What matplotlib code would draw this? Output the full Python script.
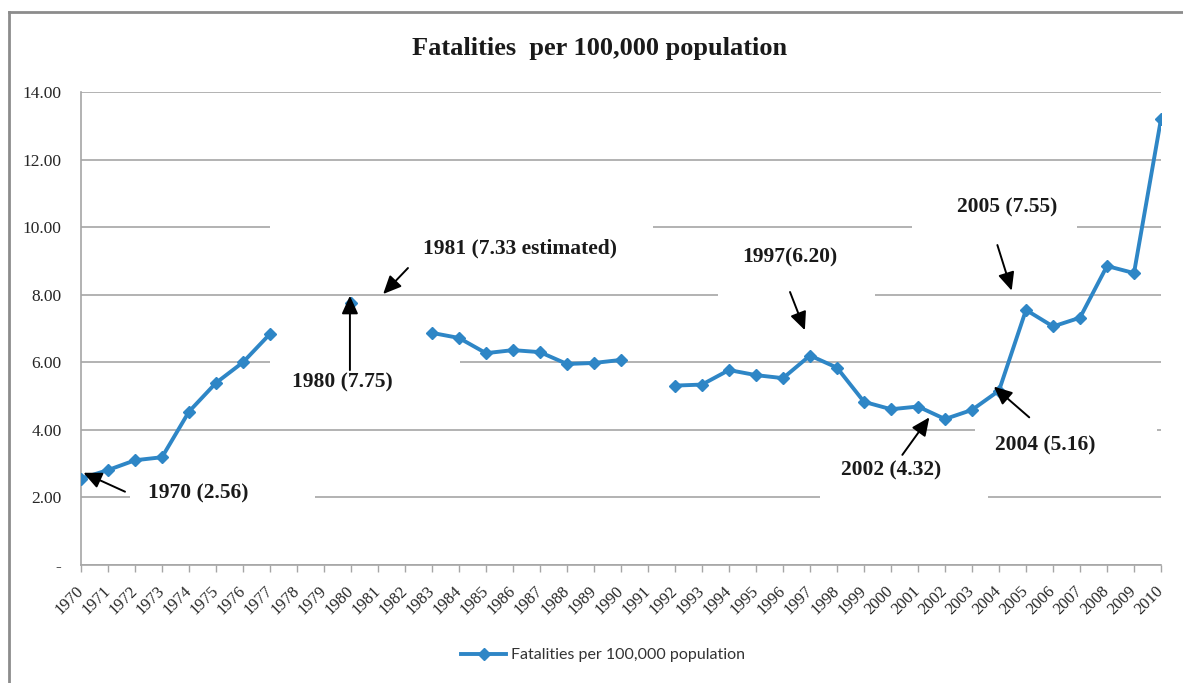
import numpy as np
import matplotlib
matplotlib.use("Agg")
import matplotlib.pyplot as plt
from matplotlib.patches import Rectangle

years = list(range(1970, 2011))
values = [2.56, 2.81, 3.10, 3.19, 4.54, 5.39, 6.00, 6.84,
          np.nan, np.nan, 7.75, np.nan, np.nan,
          6.87, 6.72, 6.27, 6.36, 6.30, 5.95, 5.98, 6.07,
          np.nan,
          5.31, 5.34, 5.77, 5.62, 5.53, 6.20, 5.84, 4.83, 4.61, 4.69,
          4.32, 4.59, 5.16, 7.55, 7.06, 7.32, 8.85, 8.64, 13.20]
series_name = "Fatalities per 100,000 population"
title = "Fatalities  per 100,000 population"
yticks = [0, 2, 4, 6, 8, 10, 12, 14]
ytick_labels = ["-", "2.00", "4.00", "6.00", "8.00", "10.00", "12.00", "14.00"]

# annotations: label, text position, arrow tail, arrow head
annotations = [
    ("1970 (2.56)", (1974.33, 2.13), (1971.63, 2.17), (1970.09, 2.73)),
    ("1980 (7.75)", (1979.67, 5.39), (1979.96, 5.77), (1979.96, 7.97)),
    ("1981 (7.33 estimated)", (1986.26, 9.38), (1982.11, 8.79), (1981.19, 8.02)),
    ("1997(6.20)", (1996.26, 9.09), (1996.26, 8.08), (1996.81, 6.95)),
    ("2005 (7.55)", (2004.30, 10.57), (2003.94, 9.47), (2004.47, 8.12)),
    ("2002 (4.32)", (2000.0, 2.81), (2000.42, 3.26), (2001.42, 4.37)),
    ("2004 (5.16)", (2005.70, 3.53), (2005.12, 4.37), (2003.81, 5.28)),
]
# white backgrounds of the text boxes (x0, x1, y0, y1) in data units
text_boxes = [
    (1971.81, 1978.67, 1.5, 2.8),
    (1977.0, 1984.04, 4.8, 6.5),
    (1977.0, 1991.19, 8.9, 10.4),
    (1993.59, 1999.41, 7.7, 9.6),
    (2000.78, 2006.89, 9.4, 11.4),
    (1997.37, 2003.59, 1.5, 3.4),
    (2003.11, 2009.85, 2.7, 4.4),
]

W, H = 1183, 683
fig = plt.figure(figsize=(W / 100, H / 100), dpi=100)
ax = fig.add_axes([81 / W, 1 - 565 / H, (1161 - 81) / W, (565 - 92) / H])

line_color = "#2E86C6"
grid_color = "#A6A6A6"

ax.plot(years, values, color=line_color, lw=2.8, marker="D", markersize=6.5,
        label=series_name, zorder=3)

ax.set_xlim(1970, 2010)
ax.set_ylim(0, 14)
ax.set_yticks(yticks)
ax.set_yticklabels(ytick_labels, family="Liberation Serif", fontsize=12.5, color="#262626")
ax.set_xticks(years)
ax.set_xticklabels([str(y) for y in years], family="Liberation Serif", fontsize=12,
                   rotation=45, ha="right", va="center", rotation_mode="anchor", color="#262626")
ax.tick_params(axis="y", length=0, pad=14)
ax.tick_params(axis="x", length=5, width=1, color=grid_color, pad=12, direction="out")

ax.grid(axis="y", color=grid_color, lw=1.2)
ax.set_axisbelow(True)
for s in ["top", "right"]:
    ax.spines[s].set_visible(False)
for s in ["left", "bottom"]:
    ax.spines[s].set_color(grid_color)
    ax.spines[s].set_linewidth(1.2)
    ax.spines[s].set_zorder(2)

for x0, x1, y0, y1 in text_boxes:
    ax.add_patch(Rectangle((x0, y0), x1 - x0, y1 - y0, facecolor="white",
                           edgecolor="none", zorder=1))

for label, tpos, tail, head in annotations:
    ax.text(tpos[0], tpos[1], label, family="Liberation Serif", fontweight="bold",
            fontsize=15.5, ha="center", va="center", color="#1a1a1a", zorder=6)
    ax.annotate("", xy=head, xytext=tail,
                arrowprops=dict(arrowstyle="-|>,head_length=1.1,head_width=0.5",
                                color="black", lw=1.4, shrinkA=0, shrinkB=0),
                zorder=7)

fig.text(600 / W, 1 - 48 / H, title, family="Liberation Serif", fontweight="bold",
         fontsize=19, ha="center", va="center", color="#1a1a1a")

leg = fig.legend(loc="center", bbox_to_anchor=(603 / W, 1 - 655 / H), frameon=False,
                 prop={"family": "Lato", "size": 11.5}, handlelength=2.8, handletextpad=0.3)
for t in leg.get_texts():
    t.set_color("#333333")

# outer chart border (left and top visible)
fig.add_artist(plt.Line2D([9 / W, 9 / W], [0, 1 - 12 / H], transform=fig.transFigure,
                          color="#8C8C8C", lw=2))
fig.add_artist(plt.Line2D([9 / W, 1], [1 - 12 / H, 1 - 12 / H], transform=fig.transFigure,
                          color="#8C8C8C", lw=2))

fig.savefig("out.png", dpi=100)
